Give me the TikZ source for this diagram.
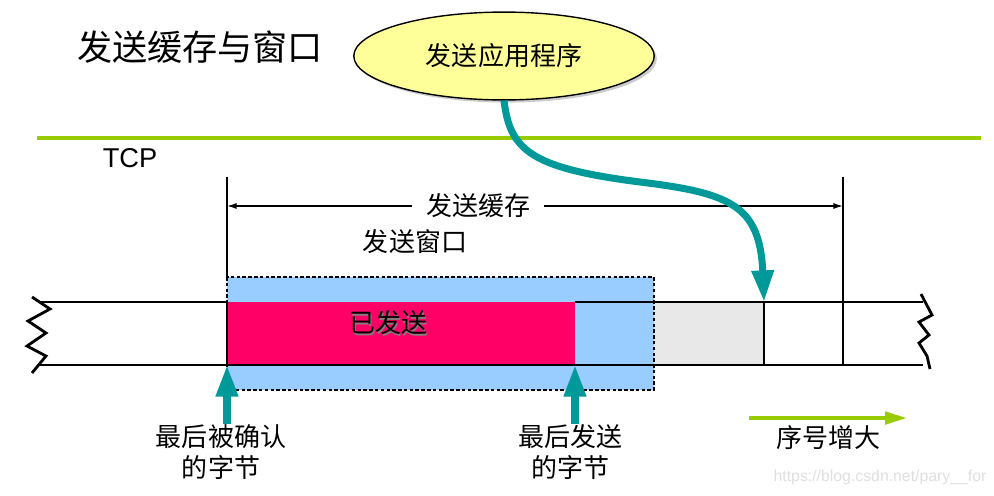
\documentclass[tikz,border=0pt]{standalone}
\usepackage{fontspec}
\setmainfont{Liberation Sans}
\newfontfamily\cjk{Noto Sans CJK SC}
\usetikzlibrary{arrows.meta}
\usetikzlibrary{shapes.geometric}
\usetikzlibrary{shadows}
\usetikzlibrary{positioning}

\definecolor{tealarrow}{HTML}{009999}
\definecolor{tcpgreen}{HTML}{99CC00}
\definecolor{winblue}{HTML}{99CCFF}
\definecolor{sentred}{HTML}{FF0066}
\definecolor{freegray}{HTML}{E8E8E8}
\definecolor{appyellow}{HTML}{FFFF99}

\tikzset{
  cjklabel/.style={font=\cjk\fontsize{14.8}{17.5}\selectfont, inner sep=0pt, align=center},
  thinline/.style={line width=0.8pt},
  zigzag/.style={line width=1.6pt},
  ptr/.style={tealarrow, line width=4pt, -{Triangle[length=18pt,width=12pt]}},
  seqptr/.style={tcpgreen, line width=2.3pt, -{Triangle[length=12.5pt,width=7pt]}},
  dimline/.style={thinline, {Latex[length=5.5pt,width=3.5pt]}-{Latex[length=5.5pt,width=3.5pt]}},
}

\begin{document}
\begin{tikzpicture}[x=0.02cm, y=-0.02cm]
  \useasboundingbox (0,0) rectangle (994,495);

  % title and application
  \node[font=\cjk\fontsize{20}{24}\selectfont, inner sep=0pt] (title) at (200,47) {发送缓存与窗口};
  \node[ellipse, draw, thinline, fill=appyellow, minimum width=171pt, minimum height=50pt,
        drop shadow={shadow xshift=1.5pt, shadow yshift=-1.5pt, fill=gray!80}]
        (app) at (504,56) {};
  \node[cjklabel] (apptext) at (app.center) {发送应用程序};

  % TCP layer
  \draw[tcpgreen, line width=2.3pt] (37,138) -- (981,138);
  \node[font=\fontsize{15.5}{18}\selectfont, inner sep=0pt] (tcp) at (130,158) {TCP};

  \coordinate (bufleft) at (227,206);
  \coordinate (bufright) at (843,206);
  \coordinate (tip) at (764,302);

  % buffer bounds
  \draw[thinline] (227,177) -- (227,277);
  \draw[thinline] (843,177) -- (843,365);
  \draw[dimline] (bufleft) -- node[pos=0.4075, fill=white, cjklabel, inner xsep=8pt] (buflabel) {发送缓存} (bufright);
  \node[cjklabel] (winlabel) at (415,242) {发送窗口};

  % window and strip
  \fill[winblue] (227,277) rectangle (654,390);
  \fill[sentred] (227,302) rectangle (575,365);
  \fill[freegray] (654,302) rectangle (764,365);
  \draw[thinline, dash pattern=on 2pt off 1.3pt] (227,277) rectangle (654,390);
  \draw[thinline] (40,302) -- (227,302) -- (227,365);
  \draw[thinline] (575,302) -- (923,302);
  \draw[thinline] (40,365) -- (923,365);
  \draw[thinline] (764,302) -- (764,365);

  \node[cjklabel, gray] at (389.5,324.5) {已发送};
  \node[cjklabel] (sent) at (388,323) {已发送};

  % broken ends
  \draw[zigzag] (32,297) -- (50,309) -- (28,321) -- (46,333) -- (27,346) -- (46,356) -- (32,373);
  \draw[zigzag] (921,294) -- (932,315) -- (919,322) -- (929,335) -- (919,343) -- (927,356) -- (930,369);

  % pointers
  \node[cjklabel] (lastack) at (221,452) {最后被确认\\的字节};
  \node[cjklabel] (lastsent) at (570,452) {最后发送\\的字节};
  \coordinate (ackfoot) at (227,424);
  \coordinate (acktip) at (227,365);
  \coordinate (sentfoot) at (575,424);
  \coordinate (senttip) at (575,365);
  \draw[ptr] (ackfoot) -- (acktip);
  \draw[ptr] (sentfoot) -- (senttip);

  \draw[ptr] (app.south) .. controls (510,150) and (530,168) .. (640,182)
             .. controls (730,193) and (760,205) .. (tip);

  % sequence direction
  \coordinate (seqstart) at (749,418);
  \coordinate (seqend) at (907,418);
  \draw[seqptr] (seqstart) -- (seqend);
  \node[cjklabel] (seqlabel) at (828,438) {序号增大};

  \node[font=\fontsize{9}{11}\selectfont, text=gray!25, inner sep=0pt] (mark) at (880,477) {https://blog.csdn.net/pary\_\_for};
\end{tikzpicture}
\end{document}
